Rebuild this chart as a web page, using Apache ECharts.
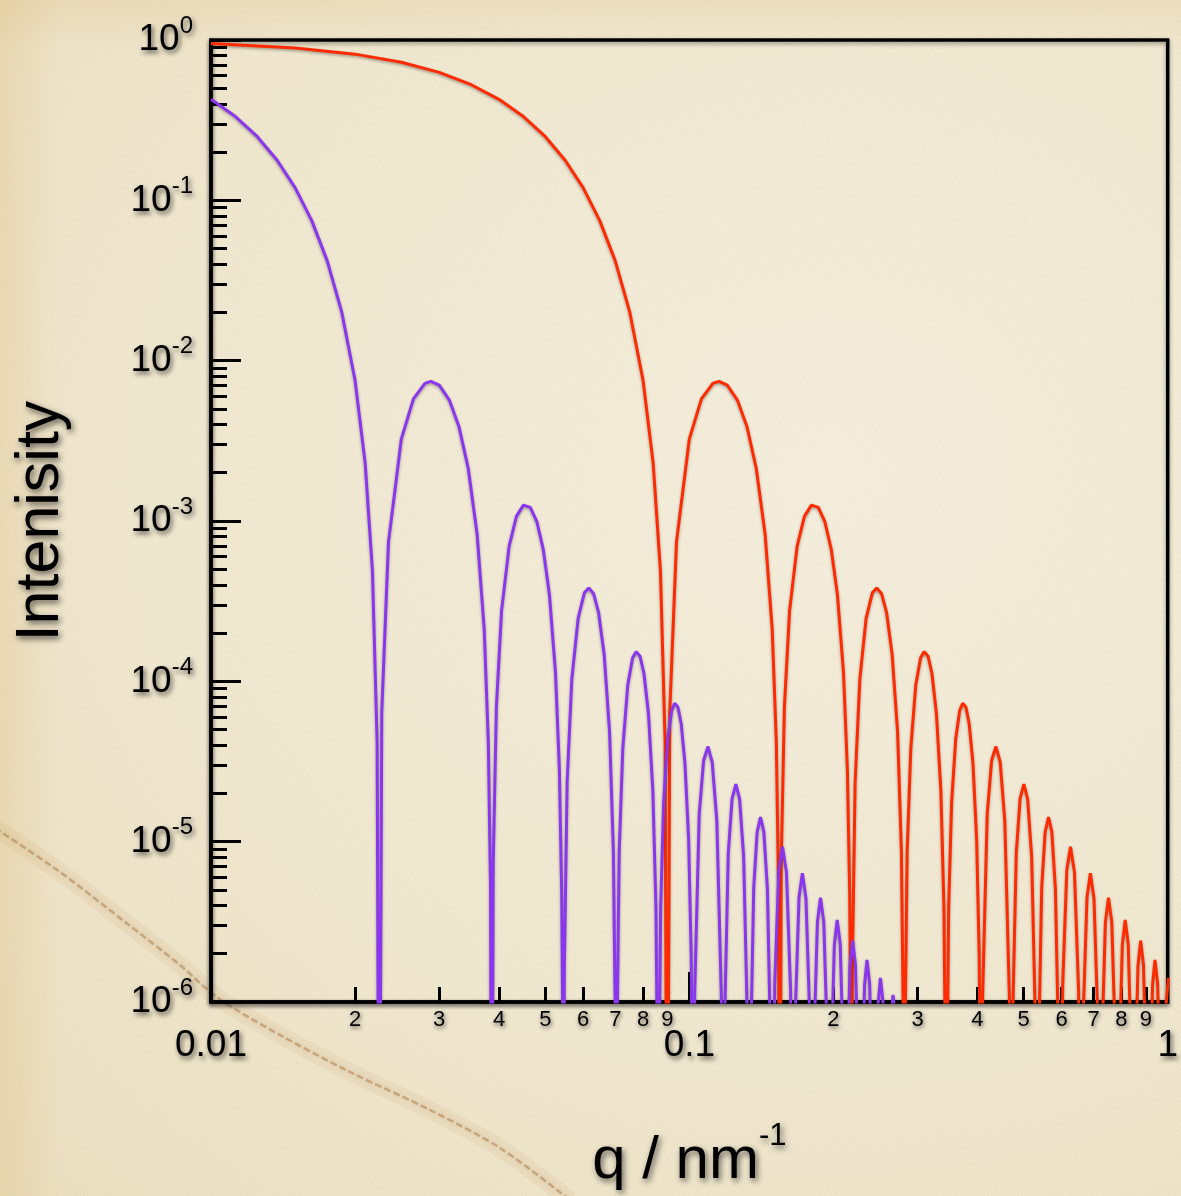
<!doctype html>
<html>
    <head>
        <meta charset="utf-8">
        <title>Sphere form factor - ECHARTS</title>
        <style>
            html, body { margin: 0; padding: 0; }
            body {
                width: 1181px; height: 1196px; overflow: hidden;
                background:
                    linear-gradient(to right, rgba(214, 178, 105, 0.22) 0, rgba(214, 178, 105, 0) 60px),
                    linear-gradient(to bottom, rgba(214, 178, 105, 0.18) 0, rgba(214, 178, 105, 0) 50px),
                    repeating-linear-gradient(62deg, rgba(120, 100, 60, 0.035) 0, rgba(120, 100, 60, 0.035) 1px, transparent 1px, transparent 3px),
                    radial-gradient(ellipse at 70% 40%, #f4eedd 0%, #f0e7cf 60%, #ebdfc0 100%);
            }
            #main { width: 1181px; height: 1196px; }
        </style>
    </head>
    <body>
        <div id="main"></div>
        <script src="https://cdn.jsdelivr.net/npm/echarts@6/dist/echarts.min.js"></script>
        <script>
            // q in nm^-1, intensity (minima drop below the axis)
            var purpleQ = [
                0.01, 0.01125, 0.0125, 0.01375, 0.015, 0.01625, 0.0175, 0.01875, 0.02, 0.021, 0.02175, 0.02225, 0.02247,
                0.02275, 0.0235, 0.025, 0.0265, 0.028, 0.02882, 0.03, 0.0315, 0.033, 0.0345, 0.036, 0.03725, 0.038, 0.0384, 0.03863,
                0.0389, 0.0395, 0.0405, 0.042, 0.0435, 0.045, 0.0465, 0.048, 0.0495, 0.051, 0.0525, 0.0535, 0.0541, 0.05435, 0.05452,
                0.05478, 0.05553, 0.05679, 0.05856, 0.06032, 0.06163, 0.06309, 0.0646, 0.06636, 0.06812, 0.06937, 0.07008, 0.07033,
                0.07059, 0.07134, 0.0726, 0.07435, 0.07611, 0.07742, 0.07887, 0.08038, 0.08214, 0.08389, 0.08515, 0.08585, 0.0861,
                0.08636, 0.08711, 0.08836, 0.09012, 0.09188, 0.09318, 0.09463, 0.09614, 0.09789, 0.09965, 0.1009, 0.1016, 0.10186,
                0.10261, 0.10487, 0.10712, 0.10938, 0.11163, 0.11414, 0.11664, 0.1176,
                0.11835, 0.12061, 0.12286, 0.12511, 0.12737, 0.12987, 0.13237, 0.13333,
                0.13408, 0.13634, 0.13859, 0.14084, 0.1431, 0.1456, 0.1481, 0.14906,
                0.15081, 0.15382, 0.15657, 0.15957, 0.16282, 0.16478,
                0.16654, 0.16954, 0.17229, 0.17529, 0.17855, 0.1805,
                0.18226, 0.18526, 0.18801, 0.19101, 0.19427, 0.19622,
                0.19798, 0.20098, 0.20373, 0.20673, 0.20998, 0.21194,
                0.21369, 0.21669, 0.21945, 0.22245, 0.2257, 0.22766,
                0.22941, 0.23241, 0.23516, 0.23816, 0.24141, 0.24337,
                0.24512, 0.24813, 0.25088, 0.25388, 0.25713, 0.25909,
                0.26084, 0.26384, 0.26659, 0.26959, 0.27284, 0.2748
            ];
            var purpleI = [
                0.4265, 0.3331, 0.2495, 0.1779, 0.1195, 0.07448, 0.04194, 0.02032, 0.007583, 0.002312, 4.927e-4, 4.134e-5, 1e-8,
                6.400e-5, 7.405e-4, 3.255e-3, 5.775e-3, 7.223e-3, 7.431e-3, 7.038e-3, 5.681e-3, 3.868e-3, 2.127e-3, 8.302e-4, 2.126e-4, 4.142e-5, 5.206e-6, 1e-8,
                7.236e-6, 6.872e-5, 2.759e-4, 6.972e-4, 1.069e-3, 1.256e-3, 1.217e-3, 9.899e-4, 6.658e-4, 3.465e-4, 1.136e-4, 2.810e-5, 4.601e-6, 7.44e-7, 1e-8,
                1.575e-6, 2.354e-5, 1.031e-4, 2.481e-4, 3.565e-4, 3.825e-4, 3.515e-4, 2.688e-4, 1.477e-4, 4.799e-5, 8.801e-6, 6.24e-7, 1e-8,
                5.69e-7, 8.615e-6, 3.851e-5, 9.515e-5, 1.403e-4, 1.532e-4, 1.435e-4, 1.119e-4, 6.280e-5, 2.082e-5, 3.871e-6, 2.76e-7, 1e-8,
                2.54e-7, 3.869e-6, 1.752e-5, 4.403e-5, 6.598e-5, 7.293e-5, 6.917e-5, 5.460e-5, 3.109e-5, 1.045e-5, 1.961e-6, 1.41e-7, 1e-8,
                1.136e-6, 1.487e-5, 3.221e-5, 3.920e-5, 3.133e-5, 1.351e-5, 1.098e-6, 1e-8,
                6.42e-7, 8.492e-6, 1.861e-5, 2.288e-5, 1.847e-5, 8.056e-6, 6.61e-7, 1e-8,
                3.89e-7, 5.198e-6, 1.149e-5, 1.425e-5, 1.159e-5, 5.098e-6, 4.22e-7, 1e-8,
                1.279e-6, 6.650e-6, 9.315e-6, 6.465e-6, 1.166e-6, 1e-8,
                8.60e-7, 4.506e-6, 6.353e-6, 4.440e-6, 8.06e-7, 1e-8,
                6.00e-7, 3.160e-6, 4.479e-6, 3.148e-6, 5.75e-7, 1e-8,
                4.31e-7, 2.281e-6, 3.248e-6, 2.296e-6, 4.22e-7, 1e-8,
                3.17e-7, 1.688e-6, 2.413e-6, 1.712e-6, 3.16e-7, 1e-8,
                2.39e-7, 1.276e-6, 1.830e-6, 1.303e-6, 2.41e-7, 1e-8,
                1.83e-7, 9.82e-7, 1.414e-6, 1.009e-6, 1.88e-7, 1e-8,
                1.43e-7, 7.68e-7, 1.108e-6, 7.94e-7, 1.48e-7, 1e-8
            ];

            var redQ = [
                0.01, 0.015, 0.02, 0.025, 0.03, 0.035, 0.04, 0.045, 0.05, 0.055, 0.06, 0.065, 0.07, 0.075, 0.08, 0.084, 0.087, 0.089, 0.08987,
                0.091, 0.094, 0.1, 0.106, 0.112, 0.1153, 0.12, 0.126, 0.132, 0.138, 0.144, 0.149, 0.152, 0.1536, 0.1545,
                0.1556, 0.158, 0.162, 0.168, 0.174, 0.18, 0.186, 0.192, 0.198, 0.204, 0.21, 0.214, 0.2164, 0.2174, 0.2181,
                0.2191, 0.2221, 0.2272, 0.2342, 0.2413, 0.2465, 0.2523, 0.2584, 0.2654, 0.2725, 0.2775, 0.2803, 0.2813,
                0.2823, 0.2853, 0.2904, 0.2974, 0.3044, 0.3097, 0.3155, 0.3215, 0.3285, 0.3356, 0.3406, 0.3434, 0.3444,
                0.3454, 0.3484, 0.3534, 0.3605, 0.3675, 0.3727, 0.3785, 0.3845, 0.3916, 0.3986, 0.4036, 0.4064, 0.4074,
                0.4104, 0.4195, 0.4285, 0.4375, 0.4465, 0.4565, 0.4666, 0.4704,
                0.4734, 0.4824, 0.4914, 0.5004, 0.5095, 0.5195, 0.5295, 0.5333,
                0.5363, 0.5453, 0.5544, 0.5634, 0.5724, 0.5824, 0.5924, 0.5962,
                0.6032, 0.6153, 0.6263, 0.6383, 0.6513, 0.6591,
                0.6661, 0.6781, 0.6892, 0.7012, 0.7142, 0.722,
                0.729, 0.741, 0.752, 0.764, 0.7771, 0.7849,
                0.7919, 0.8039, 0.8149, 0.8269, 0.8399, 0.8478,
                0.8548, 0.8668, 0.8778, 0.8898, 0.9028, 0.9106,
                0.9176, 0.9296, 0.9406, 0.9526, 0.9656, 0.9735,
                0.9805, 0.9925, 1.0035
            ];
            var redI = [
                0.9511, 0.8928, 0.8163, 0.7263, 0.6278, 0.5262, 0.4265, 0.3331, 0.2495, 0.1779, 0.1195, 0.07448, 0.04194, 0.02032, 0.007583, 0.002312, 4.927e-4, 4.134e-5, 1e-8,
                6.400e-5, 7.405e-4, 3.255e-3, 5.775e-3, 7.223e-3, 7.431e-3, 7.038e-3, 5.681e-3, 3.868e-3, 2.127e-3, 8.302e-4, 2.126e-4, 4.142e-5, 5.206e-6, 1e-8,
                7.236e-6, 6.872e-5, 2.759e-4, 6.972e-4, 1.069e-3, 1.256e-3, 1.217e-3, 9.899e-4, 6.658e-4, 3.465e-4, 1.136e-4, 2.810e-5, 4.601e-6, 7.44e-7, 1e-8,
                1.575e-6, 2.354e-5, 1.031e-4, 2.481e-4, 3.565e-4, 3.825e-4, 3.515e-4, 2.688e-4, 1.477e-4, 4.799e-5, 8.801e-6, 6.24e-7, 1e-8,
                5.69e-7, 8.615e-6, 3.851e-5, 9.515e-5, 1.403e-4, 1.532e-4, 1.435e-4, 1.119e-4, 6.280e-5, 2.082e-5, 3.871e-6, 2.76e-7, 1e-8,
                2.54e-7, 3.869e-6, 1.752e-5, 4.403e-5, 6.598e-5, 7.293e-5, 6.917e-5, 5.460e-5, 3.109e-5, 1.045e-5, 1.961e-6, 1.41e-7, 1e-8,
                1.136e-6, 1.487e-5, 3.221e-5, 3.920e-5, 3.133e-5, 1.351e-5, 1.098e-6, 1e-8,
                6.42e-7, 8.492e-6, 1.861e-5, 2.288e-5, 1.847e-5, 8.056e-6, 6.61e-7, 1e-8,
                3.89e-7, 5.198e-6, 1.149e-5, 1.425e-5, 1.159e-5, 5.098e-6, 4.22e-7, 1e-8,
                1.279e-6, 6.650e-6, 9.315e-6, 6.465e-6, 1.166e-6, 1e-8,
                8.60e-7, 4.506e-6, 6.353e-6, 4.440e-6, 8.06e-7, 1e-8,
                6.00e-7, 3.160e-6, 4.479e-6, 3.148e-6, 5.75e-7, 1e-8,
                4.31e-7, 2.281e-6, 3.248e-6, 2.296e-6, 4.22e-7, 1e-8,
                3.17e-7, 1.688e-6, 2.413e-6, 1.712e-6, 3.16e-7, 1e-8,
                2.39e-7, 1.276e-6, 1.830e-6, 1.303e-6, 2.41e-7, 1e-8,
                1.83e-7, 9.82e-7, 1.414e-6
            ];

            // axis ticks
            var xMajorTicks = [0.01, 0.1, 1];
            var xMajorLabels = ['0.01', '0.1', '1'];
            var xMinorTicks = [0.02, 0.03, 0.04, 0.05, 0.06, 0.07, 0.08, 0.09,
                0.2, 0.3, 0.4, 0.5, 0.6, 0.7, 0.8, 0.9];
            var xMinorLabels = ['2', '3', '4', '5', '6', '7', '8', '9',
                '2', '3', '4', '5', '6', '7', '8', '9'];
            var yMajorTicks = [1e-6, 1e-5, 1e-4, 1e-3, 1e-2, 1e-1, 1];
            var yExponents = ['-6', '-5', '-4', '-3', '-2', '-1', '0'];
            var yDecades = [1e-6, 1e-5, 1e-4, 1e-3, 1e-2, 1e-1];
            var mantissas = [2, 3, 4, 5, 6, 7, 8, 9];

            var yMinorTicks = [];
            yDecades.forEach(function (d) {
                mantissas.forEach(function (m) { yMinorTicks.push(m * d); });
            });

            var FONT = "'Liberation Sans', Arial, Helvetica, sans-serif";
            var SHADOW = 'rgba(0,0,0,0.6)';

            function zip(q, v) {
                return q.map(function (x, i) { return [x, v[i]]; });
            }
            function nearestIndex(list, v) {
                var best = 0;
                list.forEach(function (t, i) {
                    if (Math.abs(Math.log(t / v)) < Math.abs(Math.log(list[best] / v))) best = i;
                });
                return best;
            }

            var chart = echarts.init(document.getElementById('main'), null, {renderer: 'canvas'});

            var axisLine = {
                show: true,
                lineStyle: {color: '#000', width: 3.5, shadowColor: 'rgba(0,0,0,0.45)', shadowBlur: 4, shadowOffsetY: 2}
            };
            var stainPath = [[-5, 828], [60, 872], [125, 922], [180, 965], [218, 998], [280, 1035], [350, 1072], [430, 1110], [500, 1148], [570, 1200]];

            chart.setOption({
                animation: false,
                backgroundColor: 'transparent',
                graphic: [{
                    type: 'polyline',
                    z: -10,
                    silent: true,
                    shape: {points: stainPath, smooth: 0.3},
                    style: {fill: null, stroke: 'rgba(200, 150, 80, 0.10)', lineWidth: 18}
                }, {
                    type: 'polyline',
                    z: -9,
                    silent: true,
                    shape: {points: stainPath, smooth: 0.3},
                    style: {fill: null, stroke: 'rgba(150, 95, 40, 0.38)', lineWidth: 2.5,
                        lineDash: [7, 3], shadowColor: 'rgba(150, 95, 40, 0.5)', shadowBlur: 4}
                }],
                grid: {
                    left: 211, right: 7, top: 40, bottom: 191,
                    show: true,
                    backgroundColor: 'transparent',
                    borderColor: '#000',
                    borderWidth: 3.5,
                    shadowColor: 'rgba(0,0,0,0.4)',
                    shadowBlur: 4,
                    shadowOffsetY: 2
                },
                xAxis: [{
                    type: 'log',
                    logBase: 10,
                    min: 0.01,
                    max: 1,
                    position: 'bottom',
                    axisLine: axisLine,
                    splitLine: {show: false},
                    axisTick: {show: true, inside: true, length: 30, customValues: xMajorTicks,
                        lineStyle: {color: '#000', width: 3}},
                    axisLabel: {
                        customValues: xMajorTicks,
                        margin: 25,
                        fontFamily: FONT, fontSize: 37, color: '#000',
                        textShadowColor: SHADOW, textShadowBlur: 5, textShadowOffsetX: 2, textShadowOffsetY: 3,
                        formatter: function (v) { return xMajorLabels[nearestIndex(xMajorTicks, v)]; }
                    },
                    name: '{a|q / nm}{s|-1}',
                    nameLocation: 'middle',
                    nameGap: 119,
                    nameTextStyle: {
                        color: '#000',
                        textShadowColor: SHADOW, textShadowBlur: 6, textShadowOffsetX: 2, textShadowOffsetY: 3,
                        rich: {
                            a: {fontFamily: FONT, fontSize: 60, lineHeight: 80, color: '#000'},
                            s: {fontFamily: FONT, fontSize: 31, lineHeight: 31, verticalAlign: 'top', color: '#000'}
                        }
                    }
                }, {
                    type: 'log',
                    logBase: 10,
                    min: 0.01,
                    max: 1,
                    position: 'bottom',
                    axisLine: {show: false},
                    splitLine: {show: false},
                    axisTick: {show: true, inside: true, length: 15, customValues: xMinorTicks,
                        lineStyle: {color: '#000', width: 3}},
                    axisLabel: {
                        customValues: xMinorTicks,
                        margin: 7,
                        fontFamily: FONT, fontSize: 22, color: '#000',
                        textShadowColor: SHADOW, textShadowBlur: 4, textShadowOffsetX: 1, textShadowOffsetY: 2,
                        formatter: function (v) { return xMinorLabels[nearestIndex(xMinorTicks, v)]; }
                    }
                }],
                yAxis: [{
                    type: 'log',
                    logBase: 10,
                    min: 1e-6,
                    max: 1,
                    position: 'left',
                    axisLine: axisLine,
                    splitLine: {show: false},
                    axisTick: {show: true, inside: true, length: 30, customValues: yMajorTicks,
                        lineStyle: {color: '#000', width: 3}},
                    axisLabel: {
                        customValues: yMajorTicks,
                        margin: 18,
                        color: '#000',
                        textShadowColor: SHADOW, textShadowBlur: 5, textShadowOffsetX: 2, textShadowOffsetY: 3,
                        formatter: function (v) {
                            return '{b|10}{s|' + yExponents[nearestIndex(yMajorTicks, v)] + '}';
                        },
                        rich: {
                            b: {fontFamily: FONT, fontSize: 37, lineHeight: 52, color: '#000'},
                            s: {fontFamily: FONT, fontSize: 24, lineHeight: 24, verticalAlign: 'top', color: '#000'}
                        }
                    },
                    name: 'Intenisity',
                    nameLocation: 'middle',
                    nameGap: 139,
                    nameTextStyle: {
                        fontFamily: FONT, fontSize: 61, lineHeight: 61, color: '#000',
                        textShadowColor: SHADOW, textShadowBlur: 6, textShadowOffsetX: 2, textShadowOffsetY: 3
                    }
                }, {
                    type: 'log',
                    logBase: 10,
                    min: 1e-6,
                    max: 1,
                    position: 'left',
                    axisLine: {show: false},
                    splitLine: {show: false},
                    axisTick: {show: true, inside: true, length: 16, customValues: yMinorTicks,
                        lineStyle: {color: '#000', width: 3}},
                    axisLabel: {show: false}
                }],
                series: [{
                    name: 'R = 50 nm',
                    type: 'line',
                    xAxisIndex: 0,
                    yAxisIndex: 0,
                    showSymbol: false,
                    clip: true,
                    z: 3,
                    lineStyle: {color: '#ff2a00', width: 3, shadowColor: 'rgba(0,0,0,0.35)', shadowBlur: 3, shadowOffsetY: 1.5},
                    data: zip(redQ, redI)
                }, {
                    name: 'R = 200 nm',
                    type: 'line',
                    xAxisIndex: 0,
                    yAxisIndex: 0,
                    showSymbol: false,
                    clip: true,
                    z: 4,
                    lineStyle: {color: '#8a36ee', width: 3, shadowColor: 'rgba(0,0,0,0.35)', shadowBlur: 3, shadowOffsetY: 1.5},
                    data: zip(purpleQ, purpleI)
                }]
            });

            window.onresize = chart.resize;
        </script>
    </body>
</html>
